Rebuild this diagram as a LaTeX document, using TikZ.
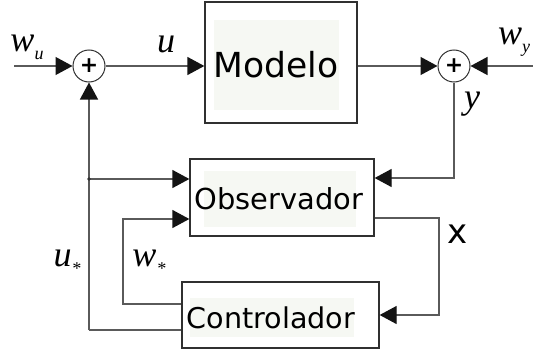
\documentclass[tikz,border=0pt]{standalone}
\usepackage{fontspec}
\setmainfont{DejaVu Sans}
\newfontfamily\serifit{Liberation Serif}
\usetikzlibrary{arrows.meta,calc}

\definecolor{linegray}{HTML}{5A5A5A}
\definecolor{boxedge}{HTML}{303030}
\definecolor{tipcolor}{HTML}{141414}
\definecolor{panel}{HTML}{F6F8F3}

% italic variable with a lowered subscript
\newcommand{\varlab}[2]{{\serifit\itshape\fontsize{36}{36}\selectfont #1}\raisebox{-8pt}{\serifit\itshape\fontsize{18}{18}\selectfont #2}}

\tikzset{
  blockbox/.style={draw=boxedge, line width=1.3pt, rectangle, inner sep=0pt},
  panelbox/.style={fill=panel, rectangle, inner sep=0pt},
  blocktext/.style={inner sep=0pt, text=black},
  sumnode/.style={draw=boxedge, line width=1.0pt, circle, minimum size=32pt, inner sep=0pt,
                  font=\bfseries\fontsize{22}{22}\selectfont},
  wire/.style={draw=linegray, line width=1.3pt},
  sig/.style={wire, -{Triangle[length=17pt,width=18pt,color=tipcolor]}},
  varname/.style={inner sep=0pt, anchor=center}
}

\begin{document}
\begin{tikzpicture}[x=1pt,y=-1pt]
\useasboundingbox (0,0) rectangle (533,356);

% blocks
\node[blockbox, minimum width=152pt, minimum height=121pt] (model) at (281,62.5) {};
\node[panelbox, minimum width=125pt, minimum height=90pt] (modelpanel) at (276.5,65) {};
\node[blocktext, font=\fontsize{34.5}{34.5}\selectfont] (modeltext) at (276,65) {Modelo};

\node[blockbox, minimum width=184pt, minimum height=77pt] (obs) at (282,197.5) {};
\node[panelbox, minimum width=152pt, minimum height=56pt] (obspanel) at (280,199) {};
\node[blocktext, font=\fontsize{28.9}{28.9}\selectfont] (obstext) at (279,199) {Observador};

\node[blockbox, minimum width=197pt, minimum height=66pt] (ctrl) at (280.5,315) {};
\node[panelbox, minimum width=164pt, minimum height=39pt] (ctrlpanel) at (272,317.5) {};
\node[blocktext, font=\fontsize{28.6}{28.6}\selectfont] (ctrltext) at (271,318) {Controlador};

% summing junctions
\node[sumnode] (sumu) at (89,66) {+};
\node[sumnode] (sumy) at (454,66) {+};

% free ends and corners
\coordinate (wuin) at (14,66);
\coordinate (wyin) at (533,66);
\coordinate (branch) at (89,179);
\coordinate (ycorner) at (454,178);
\coordinate (xtop) at (439,218);
\coordinate (xbot) at (439,315);
\coordinate (wstop) at (123,219);
\coordinate (wsbot) at (123,304);
\coordinate (usbot) at (89,330);

% forward path
\draw[sig] (wuin) -- (sumu.west);
\draw[sig] (sumu.east) -- (sumu.east -| model.west);
\draw[sig] (model.east |- sumy.west) -- (sumy.west);
\draw[sig] (wyin) -- (sumy.east);

% measured output into the observer
\draw[sig] (sumy.south) -- (ycorner) -- (ycorner -| obs.east);

% control signal fed back and branched to the observer
\draw[wire] (usbot -| ctrl.west) -- (usbot);
\draw[sig] (usbot) -- (sumu.south);
\draw[sig] (branch) -- (branch -| obs.west);
\fill[boxedge] (branch) circle (1.8pt);

% controller auxiliary signal into the observer
\draw[sig] (wsbot -| ctrl.west) -- (wsbot) -- (wstop) -- (wstop -| obs.west);

% state estimate into the controller
\draw[sig] (xtop -| obs.east) -- (xtop) -- (xbot) -- (xbot -| ctrl.east);

% signal names
\node[varname] (lwu) at (27,47) {\varlab{w}{u}};
\node[varname] (lu) at (166,48) {\varlab{u}{}};
\node[varname] (lwy) at (514,42) {\varlab{w}{y}};
\node[varname] (ly) at (472,104) {\varlab{y}{}};
\node[varname] (lus) at (67,262) {\varlab{u}{*}};
\node[varname] (lws) at (149,262) {\varlab{w}{*}};
\node[varname, font=\fontsize{34}{34}\selectfont] (lx) at (458,234) {x};
\end{tikzpicture}
\end{document}
